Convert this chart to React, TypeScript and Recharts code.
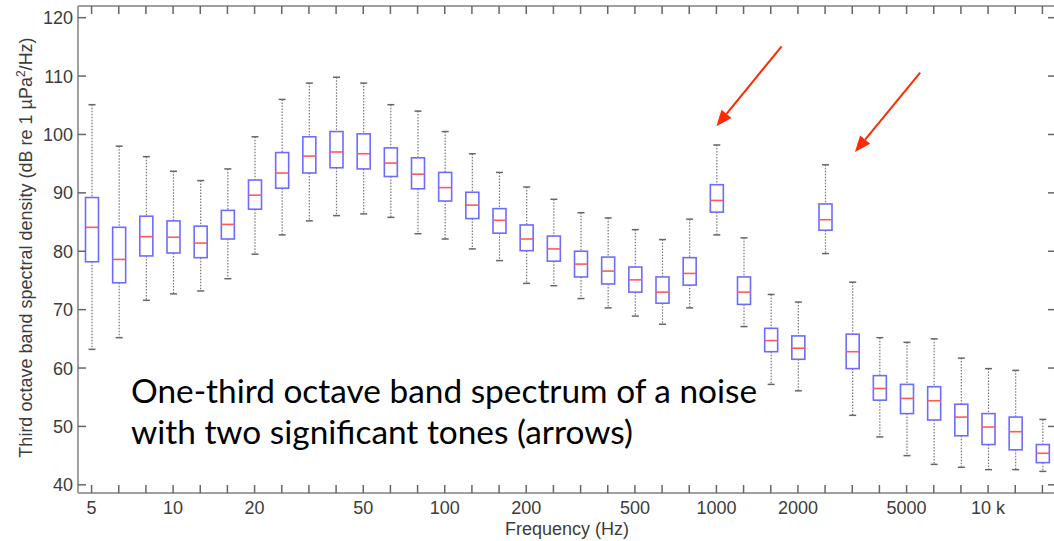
import React from 'react'
import { ComposedChart, Bar, XAxis, YAxis, ReferenceLine, Label } from 'recharts'

// one-third octave bands, 5 Hz .. 16 kHz
const bands = ['5', '6.3', '8', '10', '12.5', '16', '20', '25', '31.5', '40', '50', '63', '80', '100', '125', '160', '200', '250', '315', '400', '500', '630', '800', '1000', '1250', '1600', '2000', '2500', '3150', '4000', '5000', '6300', '8000', '10k', '12.5k', '16k']

const whiskerHigh = [105.1, 98.0, 96.2, 93.7, 92.1, 94.1, 99.6, 106.0, 108.8, 109.8, 108.8, 105.1, 104.0, 100.5, 96.7, 93.5, 91.0, 88.9, 86.6, 85.7, 83.7, 82.0, 85.5, 98.2, 82.3, 72.6, 71.3, 94.8, 74.7, 65.2, 64.4, 65.0, 61.7, 59.9, 59.6, 51.2]
const q3 = [89.2, 84.1, 86.0, 85.2, 84.3, 87.0, 92.2, 96.9, 99.6, 100.5, 100.1, 97.7, 96.0, 93.5, 90.1, 87.3, 84.5, 82.6, 80.0, 79.0, 77.3, 75.6, 78.9, 91.4, 75.6, 66.8, 65.5, 88.1, 65.8, 58.7, 57.2, 56.8, 53.8, 52.2, 51.6, 46.9]
const median = [84.1, 78.6, 82.5, 82.4, 81.4, 84.6, 89.6, 93.4, 96.3, 97.0, 96.7, 95.1, 93.2, 90.9, 87.9, 85.3, 82.1, 80.4, 77.8, 76.6, 75.1, 73.0, 76.2, 88.7, 73.0, 64.7, 63.4, 85.4, 62.8, 56.5, 54.8, 54.4, 51.6, 49.9, 49.1, 45.4]
const q1 = [78.2, 74.6, 79.2, 79.7, 78.9, 82.1, 87.2, 90.8, 93.4, 94.3, 94.1, 92.8, 90.7, 88.6, 85.6, 83.1, 80.1, 78.3, 75.6, 74.4, 73.0, 71.1, 74.2, 86.7, 70.9, 62.8, 61.5, 83.6, 59.9, 54.5, 52.2, 51.1, 48.4, 46.9, 46.0, 43.8]
const whiskerLow = [63.2, 65.2, 71.6, 72.7, 73.2, 75.3, 79.5, 82.8, 85.2, 86.1, 86.4, 85.8, 83.0, 82.1, 80.4, 78.4, 74.5, 74.1, 71.9, 70.3, 68.9, 67.5, 70.3, 82.8, 67.1, 57.2, 56.1, 79.6, 51.9, 48.2, 45.0, 43.5, 43.0, 42.6, 42.6, 42.3]

const tickBands = ['5', '10', '20', '50', '100', '200', '500', '1000', '2000', '5000', '10k']
const tickTexts = ['5', '10', '20', '50', '100', '200', '500', '1000', '2000', '5000', '10 k']
const yTicks = [40, 50, 60, 70, 80, 90, 100, 110, 120]

// arrows pointing at the two tonal bands (x in band index, y in dB)
const arrows = [
  { from: { x: 25.4, y: 115.1 }, to: { x: 23.0, y: 101.4 } },
  { from: { x: 30.5, y: 110.6 }, to: { x: 28.1, y: 97.0 } },
]

const data = bands.map((b, i) => ({
  idx: i,
  band: b,
  range: [whiskerLow[i], whiskerHigh[i]],
  low: whiskerLow[i],
  q1: q1[i],
  med: median[i],
  q3: q3[i],
  high: whiskerHigh[i],
}))

const FONT = '"Liberation Sans", Arial, Helvetica, sans-serif'
const TICK_COLOR = '#666'
const TEXT_COLOR = '#3c3c3c'

// eslint-disable-next-line @typescript-eslint/no-explicit-any
const BoxShape = (props: any) => {
  const { x, y, width, height } = props
  const d = props.payload ?? props
  const top = Math.min(y, y + height)
  const bottom = Math.max(y, y + height)
  const span = d.high - d.low
  const py = (v: number) => top + ((d.high - v) / span) * (bottom - top)
  const cx = x + width / 2
  const hw = 6.5
  const cap = 3.5
  return (
    <g>
      <line x1={cx} y1={py(d.high)} x2={cx} y2={py(d.q3)} stroke="#777" strokeWidth={1.2} strokeDasharray="1.5 1.5" />
      <line x1={cx} y1={py(d.q1)} x2={cx} y2={py(d.low)} stroke="#777" strokeWidth={1.2} strokeDasharray="1.5 1.5" />
      <line x1={cx - cap} y1={py(d.high)} x2={cx + cap} y2={py(d.high)} stroke="#666" strokeWidth={1.5} />
      <line x1={cx - cap} y1={py(d.low)} x2={cx + cap} y2={py(d.low)} stroke="#666" strokeWidth={1.5} />
      <rect x={cx - hw} y={py(d.q3)} width={hw * 2} height={py(d.q1) - py(d.q3)} fill="none" stroke="#6c6cff" strokeWidth={1.6} />
      <line x1={cx - hw} y1={py(d.med)} x2={cx + hw} y2={py(d.med)} stroke="#ff5a5a" strokeWidth={1.6} />
    </g>
  )
}

// eslint-disable-next-line @typescript-eslint/no-explicit-any
const BottomTick = ({ x, y, payload }: any) => {
  const k = tickBands.indexOf(bands[payload.value])
  return (
    <g>
      <line x1={x} y1={y} x2={x} y2={y - 8} stroke={TICK_COLOR} strokeWidth={1.5} />
      {k >= 0 && (
        <text x={x} y={y + 21} textAnchor="middle" fontFamily={FONT} fontSize={18} fill={TEXT_COLOR}>
          {tickTexts[k]}
        </text>
      )}
    </g>
  )
}

// eslint-disable-next-line @typescript-eslint/no-explicit-any
const TopTick = ({ x, y }: any) => (
  <line x1={x} y1={y} x2={x} y2={y + 8} stroke={TICK_COLOR} strokeWidth={1.5} />
)

// eslint-disable-next-line @typescript-eslint/no-explicit-any
const LeftTick = ({ x, y, payload }: any) => (
  <g>
    <line x1={x} y1={y} x2={x + 8} y2={y} stroke={TICK_COLOR} strokeWidth={1.5} />
    <text x={x - 5} y={y} dy="0.36em" textAnchor="end" fontFamily={FONT} fontSize={18} fill={TEXT_COLOR}>
      {payload.value}
    </text>
  </g>
)

// eslint-disable-next-line @typescript-eslint/no-explicit-any
const RightTick = ({ x, y }: any) => (
  <line x1={x} y1={y} x2={x - 8} y2={y} stroke={TICK_COLOR} strokeWidth={1.5} />
)

// eslint-disable-next-line @typescript-eslint/no-explicit-any
const Arrow = ({ x1, y1, x2, y2 }: any) => {
  const ang = Math.atan2(y2 - y1, x2 - x1)
  const len = 16
  const hw = 6.5
  const bx = x2 - len * Math.cos(ang)
  const by = y2 - len * Math.sin(ang)
  const px = -Math.sin(ang) * hw
  const py = Math.cos(ang) * hw
  return (
    <g>
      <line x1={x1} y1={y1} x2={bx} y2={by} stroke="#ff2a00" strokeWidth={2} />
      <polygon points={`${x2},${y2} ${bx + px},${by + py} ${bx - px},${by - py}`} fill="#ff2a00" />
    </g>
  )
}

// eslint-disable-next-line @typescript-eslint/no-explicit-any
const YLabel = ({ viewBox }: any) => {
  const cx = 32
  const cy = viewBox.y + viewBox.height / 2 - 2
  return (
    <text x={cx} y={cy} transform={`rotate(-90 ${cx} ${cy})`} textAnchor="middle" fontFamily={FONT} fontSize={18} fill={TEXT_COLOR}>
      Third octave band spectral density (dB re 1 µPa
      <tspan fontSize={12} dy={-7}>2</tspan>
      <tspan dy={7}>/Hz)</tspan>
    </text>
  )
}

// eslint-disable-next-line @typescript-eslint/no-explicit-any
const XLabel = ({ viewBox }: any) => (
  <text x={viewBox.x + viewBox.width / 2} y={viewBox.y + 42} textAnchor="middle" fontFamily={FONT} fontSize={18} fill={TEXT_COLOR}>
    Frequency (Hz)
  </text>
)

export default function App() {
  const xTicks = bands.map((_, i) => i)
  return (
    <div style={{ position: 'absolute', left: 0, top: 0, width: 1054, height: 541, overflow: 'hidden', background: '#fff' }}>
      <ComposedChart width={1064} height={541} data={data} margin={{ top: 5, right: 0, bottom: 0, left: 0 }}>
        <XAxis
          dataKey="idx"
          type="number"
          domain={[-0.5, 35.5]}
          ticks={xTicks}
          interval={0}
          allowDataOverflow
          height={48}
          tickSize={0}
          tickMargin={0}
          tick={<BottomTick />}
          axisLine={{ stroke: '#a0a0a0', strokeWidth: 2 }}
        >
          <Label content={<XLabel />} />
        </XAxis>
        <XAxis
          xAxisId="top"
          orientation="top"
          dataKey="idx"
          type="number"
          domain={[-0.5, 35.5]}
          ticks={xTicks}
          interval={0}
          allowDataOverflow
          height={1}
          tickSize={0}
          tickMargin={0}
          tick={<TopTick />}
          axisLine={{ stroke: '#a0a0a0', strokeWidth: 2 }}
        />
        <YAxis
          type="number"
          domain={[38.6, 122]}
          ticks={yTicks}
          interval={0}
          allowDataOverflow
          width={78}
          tickSize={0}
          tickMargin={0}
          tick={<LeftTick />}
          axisLine={{ stroke: '#a0a0a0', strokeWidth: 2 }}
        >
          <Label content={<YLabel />} />
        </YAxis>
        <YAxis
          yAxisId="right"
          orientation="right"
          type="number"
          domain={[38.6, 122]}
          ticks={yTicks}
          interval={0}
          allowDataOverflow
          width={8}
          tickSize={0}
          tickMargin={0}
          tick={<RightTick />}
          axisLine={{ stroke: '#a0a0a0', strokeWidth: 2 }}
        />
        <Bar dataKey="range" barSize={14} shape={<BoxShape />} isAnimationActive={false} />
        {arrows.map((a, i) => (
          <ReferenceLine key={i} segment={[a.from, a.to]} shape={<Arrow />} ifOverflow="visible" />
        ))}
      </ComposedChart>
      <div
        style={{
          position: 'absolute',
          left: 131,
          top: 370,
          fontFamily: 'Lato, "Open Sans", sans-serif',
          fontSize: 33.4,
          lineHeight: '41px',
          color: '#000',
          whiteSpace: 'nowrap',
        }}
      >
        One-third octave band spectrum of a noise
        <br />
        with two significant tones (arrows)
      </div>
    </div>
  )
}
